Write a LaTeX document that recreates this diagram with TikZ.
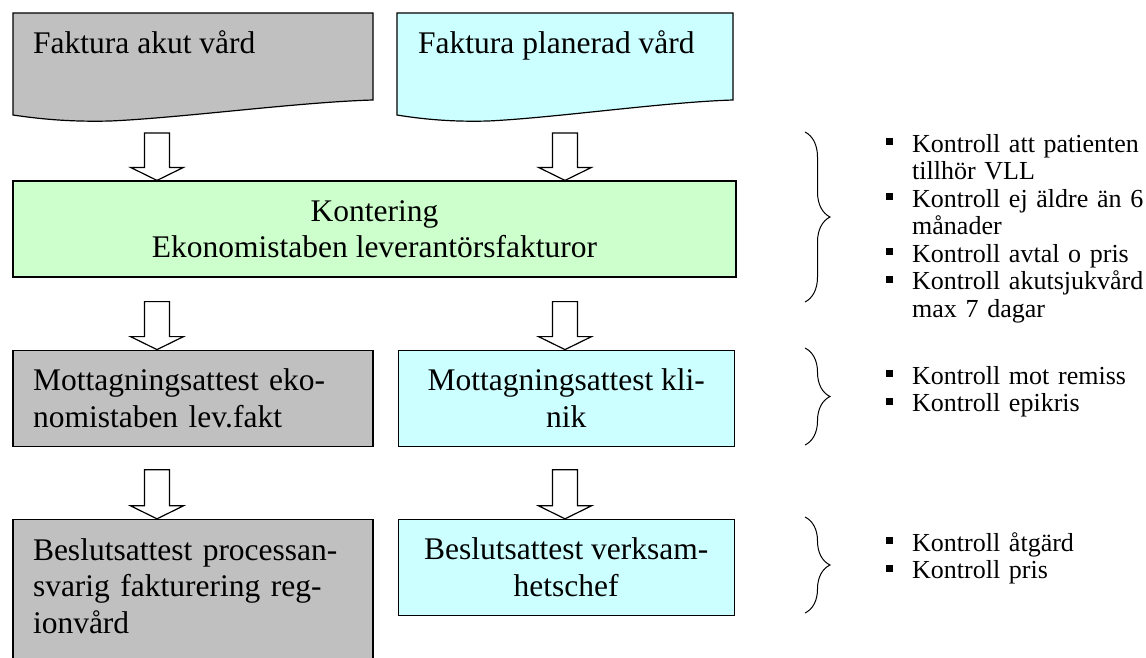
\documentclass[tikz,border=0pt]{standalone}
\usepackage{fontspec}
\setmainfont{Liberation Serif}
\usetikzlibrary{positioning,decorations.pathreplacing,calc}

\definecolor{akutgray}{HTML}{C0C0C0}
\definecolor{planblue}{HTML}{CCFFFF}
\definecolor{kontgreen}{HTML}{CCFFCC}

\newcommand{\boxfont}{\fontsize{31.5}{36.5}\selectfont}
\newcommand{\listfont}{\fontsize{26}{27.5}\selectfont}
\newcommand{\sqbullet}{\leavevmode\llap{\rule[7pt]{7pt}{7pt}\hspace{19pt}}}
\newcommand{\blockarrow}[2]{%
  \draw[line width=1.2pt,fill=white] let \p1=(#1), \p2=(#2) in
    (\x1-12.5pt,\y1) -- (\x1+12.5pt,\y1) -- (\x1+12.5pt,\y2+13pt) -- (\x1+26.5pt,\y2+13pt)
    -- (\x1,\y2) -- (\x1-26.5pt,\y2+13pt) -- (\x1-12.5pt,\y2+13pt) -- cycle;}

\begin{document}
\begin{tikzpicture}[x=1pt,y=-1pt,
  flowbox/.style={rectangle,draw,line width=1.2pt,inner sep=0pt,minimum height=96pt,font=\boxfont},
  listtext/.style={font=\listfont,text width=240pt,align=left,inner sep=0pt,anchor=base west}]
  \useasboundingbox (0,0) rectangle (1146,657);

  \draw[line width=1.2pt,fill=akutgray] (13,13) -- (373,13) -- (373,100) .. controls (300,102) and (180,118) .. (110,121) .. controls (70,122) and (40,119) .. (13,115) -- cycle;
  \draw[line width=1.2pt,fill=planblue] (397,13) -- (733,13) -- (733,100) .. controls (665,102) and (553,118) .. (488,121) .. controls (450,122) and (422,119) .. (397,115) -- cycle;
  \node[font=\boxfont,anchor=base west,inner sep=0pt] (akut) at (33,53) {Faktura akut vård};
  \node[font=\boxfont,anchor=base west,inner sep=0pt] (planerad) at (418,53) {Faktura planerad vård};

  \node[flowbox,fill=kontgreen,minimum width=723pt,align=center] (kontering) at (374.5,229) {Kontering\\Ekonomistaben leverantörsfakturor};
  \node[flowbox,fill=akutgray,minimum width=360pt,text width=320pt,inner xsep=20pt,align=left,below=72pt of kontering.south west,anchor=north west] (mottakut) {Mottagningsattest eko-\\nomistaben lev.fakt};
  \node[flowbox,fill=planblue,minimum width=336pt,align=center,right=24pt of mottakut] (mottplan) {Mottagningsattest kli-\\nik};
  \node[flowbox,fill=akutgray,minimum width=360pt,text width=320pt,inner xsep=20pt,inner ysep=19pt,text depth=130pt,align=left,below=72pt of mottakut] (beslakut) {Beslutsattest processan-\\svarig fakturering reg-\\ionvård};
  \node[flowbox,fill=planblue,minimum width=336pt,align=center,below=72pt of mottplan] (beslplan) {Beslutsattest verksam-\\hetschef};

  \coordinate (colakut) at (157,133);
  \coordinate (colplan) at (565,133);
  \blockarrow{colakut}{colakut |- kontering.north}
  \blockarrow{colplan}{colplan |- kontering.north}
  \blockarrow{$(colakut |- kontering.south)+(0,24)$}{colakut |- mottakut.north}
  \blockarrow{$(colplan |- kontering.south)+(0,24)$}{colplan |- mottplan.north}
  \blockarrow{$(colakut |- mottakut.south)+(0,23)$}{colakut |- beslakut.north}
  \blockarrow{$(colplan |- mottplan.south)+(0,23)$}{colplan |- beslplan.north}

  \draw[line width=1pt,decorate,decoration={brace,amplitude=25pt}] (805,132) -- (805,302);
  \draw[line width=1pt,decorate,decoration={brace,amplitude=25pt}] (805,348) -- (805,445);
  \draw[line width=1pt,decorate,decoration={brace,amplitude=25pt}] (805,517) -- (805,613);

  \node[listtext] (kontlist) at (912,152) {\sqbullet Kontroll att patienten\\tillhör VLL\\\sqbullet Kontroll ej äldre än 6\\månader\\\sqbullet Kontroll avtal o pris\\\sqbullet Kontroll akutsjukvård\\max 7 dagar};
  \node[listtext] (mottlist) at (912,384) {\sqbullet Kontroll mot remiss\\\sqbullet Kontroll epikris};
  \node[listtext] (beslist) at (912,551) {\sqbullet Kontroll åtgärd\\\sqbullet Kontroll pris};
\end{tikzpicture}
\end{document}
